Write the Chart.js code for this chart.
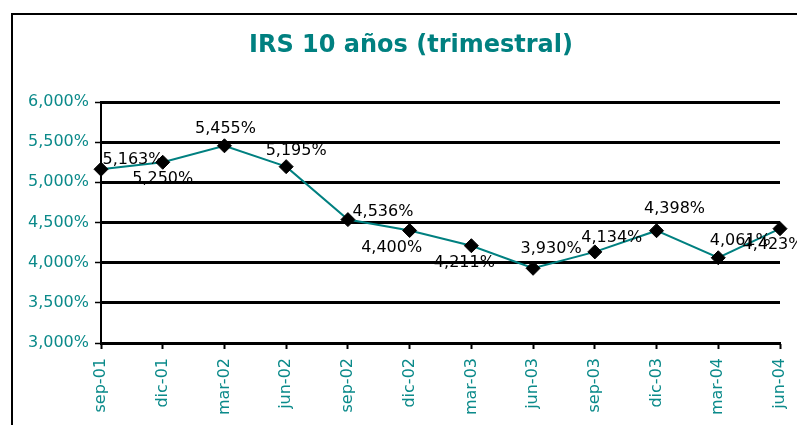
<!DOCTYPE html>
<html>
<head>
<meta charset="utf-8">
<script src="https://cdn.jsdelivr.net/npm/chart.js@4"></script>
<style>
  body { margin: 0; background: #fff; }
  #wrap { width: 797px; height: 425px; position: relative; }
</style>
</head>
<body>
<div id="wrap"><canvas id="grafico" width="797" height="425"></canvas></div>
<script>
var trimestres = ["sep-01", "dic-01", "mar-02", "jun-02", "sep-02", "dic-02", "mar-03", "jun-03", "sep-03", "dic-03", "mar-04", "jun-04"];
var irs10 = [5.163, 5.250, 5.455, 5.195, 4.536, 4.400, 4.211, 3.930, 4.134, 4.398, 4.061, 4.423];
var ejeMin = 3.0, ejeMax = 6.0, ejePaso = 0.5;
var titulo = "IRS 10 años (trimestral)";

var teal = "#008080";
var tealTicks = "#0b8a8a";

function formatoPct(v) {
    return v.toFixed(3).replace(".", ",") + "%";
}

// desplazamiento de cada etiqueta respecto a su punto (como en el original de Excel)
var desplEtiquetas = [[32, -9], [0, 17], [1, -17], [10, -16], [35, -8], [-18, 17], [-7, 17], [18, -19], [17, -14], [18, -22], [22, -17], [-7, 16]];

var etiquetasPlugin = {
    id: 'etiquetas',
    afterDatasetsDraw: function (chart) {
        var ctx = chart.ctx;
        var meta = chart.getDatasetMeta(0);
        ctx.save();
        ctx.font = '16px "DejaVu Sans"';
        ctx.fillStyle = '#000';
        ctx.textAlign = 'center';
        ctx.textBaseline = 'middle';
        for (var i = 0; i < meta.data.length; i++) {
            var p = meta.data[i];
            var d = desplEtiquetas[i];
            ctx.fillText(formatoPct(irs10[i]), p.x + d[0], p.y + d[1]);
        }
        ctx.restore();
    }
};

// marco del grafico y titulo (el titulo no va centrado en el canvas)
var marcoPlugin = {
    id: 'marco',
    beforeDraw: function (chart) {
        var ctx = chart.ctx;
        ctx.save();
        ctx.fillStyle = '#fff';
        ctx.fillRect(0, 0, chart.width, chart.height);
        ctx.strokeStyle = '#000';
        ctx.lineWidth = 2;
        ctx.beginPath();
        ctx.moveTo(12, chart.height + 5);
        ctx.lineTo(12, 14);
        ctx.lineTo(chart.width + 5, 14);
        ctx.stroke();
        ctx.font = 'bold 24px "DejaVu Sans"';
        ctx.fillStyle = teal;
        ctx.textAlign = 'center';
        ctx.textBaseline = 'middle';
        ctx.fillText(titulo, 411, 46);
        ctx.restore();
    }
};

var ctx1 = document.getElementById('grafico').getContext('2d');
var grafico = new Chart(ctx1, {
    type: 'line',
    data: {
        labels: trimestres,
        datasets: [{
            label: 'IRS 10 años',
            data: irs10,
            borderColor: teal,
            borderWidth: 2,
            tension: 0,
            fill: false,
            pointStyle: 'rectRot',
            pointRadius: 7,
            pointBackgroundColor: '#000',
            pointBorderColor: '#000',
            pointBorderWidth: 1
        }]
    },
    options: {
        responsive: false,
        animation: false,
        layout: { padding: { left: 0, right: 17, top: 102, bottom: 0 } },
        plugins: {
            legend: { display: false },
            tooltip: { enabled: false },
            title: { display: false }
        },
        scales: {
            x: {
                offset: false,
                afterFit: function (s) {
                    s.height = 82;
                    s.paddingRight = 0;
                    s.paddingLeft = 0;
                },
                grid: {
                    drawOnChartArea: false,
                    drawTicks: true,
                    tickLength: 6,
                    tickColor: '#000',
                    tickWidth: 2
                },
                border: { color: '#000', width: 2 },
                ticks: {
                    color: tealTicks,
                    font: { family: '"DejaVu Sans"', size: 16 },
                    minRotation: 90,
                    maxRotation: 90,
                    autoSkip: false,
                    padding: 9
                }
            },
            y: {
                min: ejeMin,
                max: ejeMax,
                afterFit: function (s) { s.width = 101; },
                grid: {
                    color: '#000',
                    lineWidth: 3,
                    tickLength: 6,
                    tickColor: '#000',
                    tickWidth: 1.5
                },
                border: { color: '#000', width: 2 },
                ticks: {
                    stepSize: ejePaso,
                    color: tealTicks,
                    font: { family: '"DejaVu Sans"', size: 16 },
                    padding: 6,
                    callback: function (v) { return formatoPct(v); }
                }
            }
        }
    },
    plugins: [marcoPlugin, etiquetasPlugin]
});
</script>
</body>
</html>
